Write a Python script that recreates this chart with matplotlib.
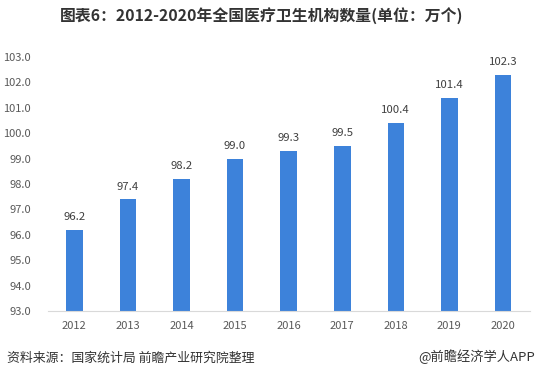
import matplotlib
matplotlib.use("Agg")
import matplotlib.pyplot as plt

plt.rcParams['font.family'] = ['Noto Sans CJK SC', 'DejaVu Sans']

years = ["2012", "2013", "2014", "2015", "2016", "2017", "2018", "2019", "2020"]
values = [96.2, 97.4, 98.2, 99.0, 99.3, 99.5, 100.4, 101.4, 102.3]
yticks = [93.0, 94.0, 95.0, 96.0, 97.0, 98.0, 99.0, 100.0, 101.0, 102.0, 103.0]

W, H = 538, 380
fig = plt.figure(figsize=(W / 100, H / 100), dpi=100)
ax = fig.add_axes([47.5 / W, (H - 311) / H, (529.8 - 47.5) / W, (311 - 57) / H])

x = list(range(len(years)))
ax.bar(x, values, width=0.31, color='#3D82DA', bottom=0)
ax.set_ylim(93.0, 103.0)
ax.set_xlim(-0.5, len(years) - 0.5)
ax.set_yticks(yticks)
ax.set_yticklabels([f"{v:.1f}" for v in yticks], fontsize=8, color='#595959')
ax.set_xticks(x)
ax.set_xticklabels(years, fontsize=8, color='#595959')
ax.tick_params(axis='both', length=0)
ax.tick_params(axis='y', pad=12)
ax.tick_params(axis='x', pad=7.5)
for s in ['top', 'right', 'left']:
    ax.spines[s].set_visible(False)
ax.spines['bottom'].set_color('#D9D9D9')
ax.spines['bottom'].set_linewidth(0.8)

for xi, v in zip(x, values):
    ax.annotate(f"{v:.1f}", (xi, v), xytext=(0, 5.5), textcoords='offset points',
                ha='center', va='bottom', fontsize=8.2, color='#404040')

fig.text(262 / W, 1 - 16 / H, "图表6：2012-2020年全国医疗卫生机构数量(单位：万个)",
         ha='center', va='center', fontsize=11.4, fontweight='bold', color='#333333')
fig.text(7 / W, 1 - 358 / H, "资料来源：国家统计局 前瞻产业研究院整理",
         ha='left', va='center', fontsize=9.3, color='#333333')
fig.text(535 / W, 1 - 357 / H, "@前瞻经济学人APP",
         ha='right', va='center', fontsize=9.5, color='#333333')

fig.savefig("out.png", dpi=100)
